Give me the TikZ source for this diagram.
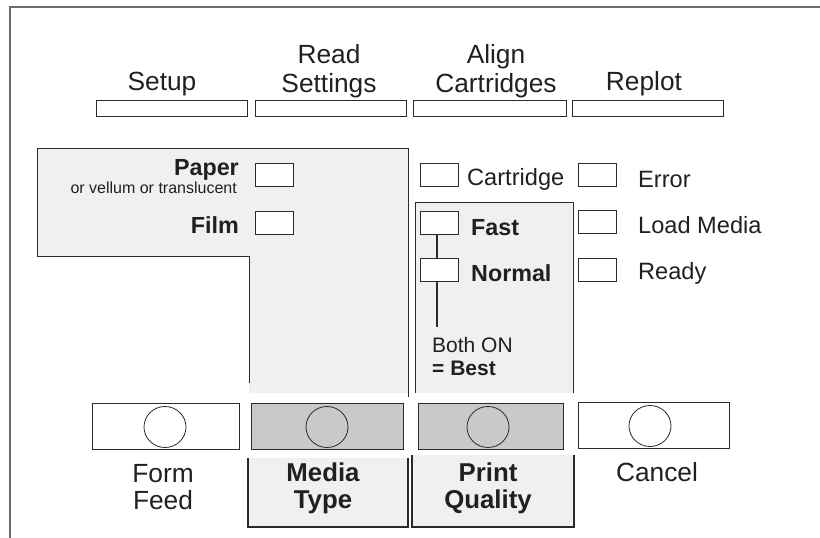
\documentclass[tikz,border=0pt]{standalone}
\usepackage{fontspec}
\setmainfont{Liberation Sans}
\usetikzlibrary{shapes.geometric}
\definecolor{linec}{HTML}{2A2A2A}
\definecolor{framec}{HTML}{6A6A6A}
\definecolor{txtc}{HTML}{231F20}
\definecolor{panelc}{HTML}{EFF0F2}
\definecolor{btnc}{HTML}{C8C9CB}
\begin{document}
\begin{tikzpicture}[x=1pt,y=-1pt,
  txt/.style={inner sep=0pt, text=txtc},
  big/.style={txt, font=\fontsize{26.3}{29}\selectfont},
  mid/.style={txt, font=\fontsize{23.6}{27}\selectfont},
  midb/.style={txt, font=\fontsize{23.3}{27}\selectfont\bfseries},
  btnb/.style={txt, font=\fontsize{25.8}{29}\selectfont\bfseries},
  small/.style={txt, font=\fontsize{16}{19}\selectfont},
  note/.style={txt, font=\fontsize{21}{23}\selectfont},
  noteb/.style={txt, font=\fontsize{21}{23}\selectfont\bfseries},
  bar/.style={draw=linec, line width=0.9pt, fill=white, minimum width=151pt, minimum height=16pt, inner sep=0pt, anchor=north west},
  chk/.style={draw=linec, line width=0.9pt, fill=white, minimum width=38pt, minimum height=23pt, inner sep=0pt, anchor=north west},
  btn/.style={draw=linec, line width=0.9pt, minimum width=148pt, minimum height=46pt, inner sep=0pt, anchor=north west},
  knob/.style={draw=linec, line width=0.8pt, ellipse, minimum width=42pt, minimum height=41pt, inner sep=0pt},
  outl/.style={draw=linec, line width=0.9pt},
  brk/.style={draw=linec, line width=1.6pt}
]
\useasboundingbox (0,0) rectangle (820,538);
% frame
\draw[framec, line width=1.3pt] (10,538) -- (10,7) -- (820,7);

% top soft keys
\node[bar] (bsetup) at (96,100) {};
\node[bar] (bread) at (255,100) {};
\node[bar, minimum width=153pt] (balign) at (413,100) {};
\node[bar] (breplot) at (572,100) {};
\node[big, anchor=base] (lsetup) at (162,90) {Setup};
\node[big, anchor=base] (lread1) at (329,63) {Read};
\node[big, anchor=base] (lread2) at (329,92) {Settings};
\node[big, anchor=base] (lalign1) at (496,63) {Align};
\node[big, anchor=base] (lalign2) at (496,92) {Cartridges};
\node[big, anchor=base] (lreplot) at (644,90) {Replot};

% media panel
\fill[panelc] (37,148) -- (408,148) -- (408,393) -- (249,393) -- (249,256) -- (37,256) -- cycle;
\draw[outl] (249,383) -- (249,256) -- (37,256) -- (37,148) -- (408,148) -- (408,397);
% print quality panel
\fill[panelc] (415,202) rectangle (573,393);
\draw[outl] (415,393) -- (415,202) -- (573,202) -- (573,393);

% check boxes
\node[chk] (cpaper) at (255,163) {};
\node[chk] (cfilm) at (255,211) {};
\node[chk] (ccart) at (420,163) {};
\node[chk] (cerror) at (578,163) {};
\node[chk] (cload) at (578,210) {};
\node[chk] (cready) at (578,258) {};
\node[chk] (cfast) at (420,211) {};
\node[chk] (cnormal) at (420,258) {};

\node[midb, anchor=base east] (tpaper) at (239,175) {Paper};
\node[small, anchor=base east] (tvellum) at (237,193) {or vellum or translucent};
\node[midb, anchor=base east] (tfilm) at (239,233) {Film};
\node[mid, anchor=base west] (tcart) at (467,185) {Cartridge};
\node[mid, anchor=base west] (terror) at (638,187) {Error};
\node[mid, anchor=base west] (tload) at (638,233) {Load Media};
\node[mid, anchor=base west] (tready) at (638,279) {Ready};
\node[midb, anchor=base west] (tfast) at (471,235) {Fast};
\node[midb, anchor=base west] (tnormal) at (471,281) {Normal};

\coordinate (lineend) at (437,327);
\draw[linec, line width=1.2pt] (cfast.south -| lineend) -- (cnormal.north -| lineend);
\draw[linec, line width=1.2pt] (cnormal.south -| lineend) -- (lineend);
\node[note, anchor=base west] (tboth) at (432,352) {Both ON};
\node[noteb, anchor=base west] (tbest) at (432,375) {= Best};

% buttons
\node[btn, fill=white, minimum width=147pt] (bform) at (92,403) {};
\node[btn, fill=btnc, minimum width=152pt] (bmedia) at (251,403) {};
\node[btn, fill=btnc, minimum width=145pt] (bpq) at (418,403) {};
\node[btn, fill=white, minimum width=151pt] (bcancel) at (578,402) {};
\node[knob] (kform) at (165,427) {};
\node[knob] (kmedia) at (327,427) {};
\node[knob] (kpq) at (488,427) {};
\node[knob] (kcancel) at (650,426) {};

% label brackets
\fill[panelc] (248,458) rectangle (408,527);
\draw[brk] (248,458) -- (248,527) -- (408,527) -- (408,458);
\fill[panelc] (412,455) rectangle (574,527);
\draw[brk] (412,455) -- (412,527) -- (574,527) -- (574,455);

\node[big, anchor=base] (lform1) at (163,482) {Form};
\node[big, anchor=base] (lform2) at (163,509) {Feed};
\node[btnb, anchor=base] (lmedia1) at (323,481) {Media};
\node[btnb, anchor=base] (lmedia2) at (323,508) {Type};
\node[btnb, anchor=base] (lpq1) at (488,481) {Print};
\node[btnb, anchor=base] (lpq2) at (488,508) {Quality};
\node[big, anchor=base] (lcancel) at (657,481) {Cancel};
\end{tikzpicture}
\end{document}
